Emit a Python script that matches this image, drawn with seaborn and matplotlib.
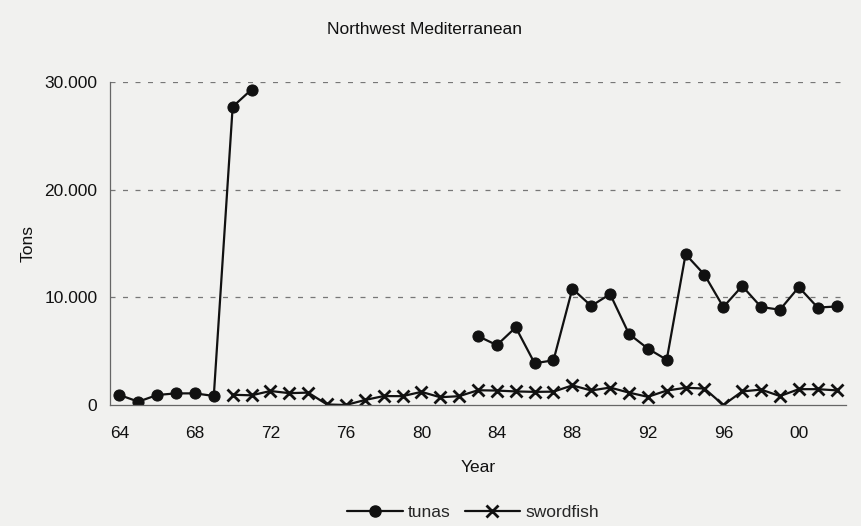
import numpy as np
import pandas as pd
import matplotlib
matplotlib.use("Agg")
import matplotlib.pyplot as plt
from matplotlib.lines import Line2D
import seaborn as sns

# ---- data ----
tuna_years_a = [1964, 1965, 1966, 1967, 1968, 1969, 1970, 1971]
tuna_vals_a = [930, 310, 930, 1080, 1080, 840, 27700, 29300]
tuna_years_b = list(range(1983, 2003))
tuna_vals_b = [6400, 5560, 7210, 3880, 4150, 10800, 9200, 10300, 6600, 5240,
               4200, 14000, 12100, 9100, 11050, 9100, 8850, 10950, 9050, 9150]
sword_years = list(range(1970, 2003))
sword_vals = [950, 900, 1300, 1100, 1150, 50, 0, 460, 830, 820,
              1220, 720, 820, 1370, 1340, 1260, 1220, 1240, 1820, 1350,
              1620, 1150, 760, 1340, 1600, 1530, 0, 1260, 1430, 830,
              1470, 1470, 1360]
tick_years = [1964, 1968, 1972, 1976, 1980, 1984, 1988, 1992, 1996, 2000]
tick_labels = ["64", "68", "72", "76", "80", "84", "88", "92", "96", "00"]
y_ticks = [0, 10000, 20000, 30000]
y_tick_labels = ["0", "10.000", "20.000", "30.000"]

df_ta = pd.DataFrame({"Year": tuna_years_a, "Tons": tuna_vals_a})
df_tb = pd.DataFrame({"Year": tuna_years_b, "Tons": tuna_vals_b})
df_sw = pd.DataFrame({"Year": sword_years, "Tons": sword_vals})

sns.set_theme(style="white")
plt.rcParams["font.family"] = ["Liberation Sans", "DejaVu Sans"]

bg = "#f1f1ef"
fig = plt.figure(figsize=(8.62, 5.26), dpi=100, facecolor=bg)
ax = fig.add_axes([110/862, 1-405/526, (846-110)/862, (405-82)/526])
ax.set_facecolor(bg)

line_kw = dict(color="#111111", linewidth=1.6, ax=ax, legend=False)
for d in (df_ta, df_tb):
    sns.lineplot(data=d, x="Year", y="Tons", marker="o", markersize=8,
                 markeredgecolor="#111111", markerfacecolor="#111111", **line_kw)
sns.lineplot(data=df_sw, x="Year", y="Tons", marker="x", markersize=8,
             markeredgewidth=2.0, markeredgecolor="#111111", **line_kw)

ax.set_xlim(1963.5, 2002.5)
ax.set_ylim(0, 30000)
ax.set_yticks(y_ticks)
ax.set_yticklabels(y_tick_labels)
ax.set_xticks(tick_years)
ax.set_xticklabels(tick_labels)
ax.set_xticks(np.arange(1963.5, 2003.0, 1.0), minor=True)
ax.tick_params(axis="x", which="major", length=0, pad=15, labelsize=12.5, colors="#111111")
ax.tick_params(axis="x", which="minor", length=6, width=0.8, color="#666666", direction="out")
ax.tick_params(axis="y", which="major", length=6, width=0.8, color="#666666", direction="out",
               pad=3, labelsize=12.5, labelcolor="#111111")

for yv in y_ticks[1:]:
    ax.axhline(yv, color="#777777", linewidth=0.9, linestyle=(0, (4, 6)), zorder=0)

for s in ("top", "right"):
    ax.spines[s].set_visible(False)
for s in ("left", "bottom"):
    ax.spines[s].set_color("#666666")
    ax.spines[s].set_linewidth(0.9)

ax.set_xlabel("Year", fontsize=12.5, color="#111111", labelpad=14)
ax.set_ylabel("Tons", fontsize=12.5, color="#111111")
ax.yaxis.set_label_coords(-0.101, 0.5)

fig.text(425/862, 1-29/526, "Northwest Mediterranean", ha="center", va="center",
         fontsize=12.5, color="#111111")

handles = [Line2D([], [], color="#111111", lw=1.6, marker="o", markersize=8),
           Line2D([], [], color="#111111", lw=1.6, marker="x", markersize=8, markeredgewidth=2.0)]
fig.legend(handles, ["tunas", "swordfish"], loc="center", bbox_to_anchor=(473/862, 1-512/526),
           ncol=2, frameon=False, fontsize=12.5, handlelength=3.2, handletextpad=0.3,
           columnspacing=0.8)

fig.savefig("out.png", dpi=100, facecolor=bg)
